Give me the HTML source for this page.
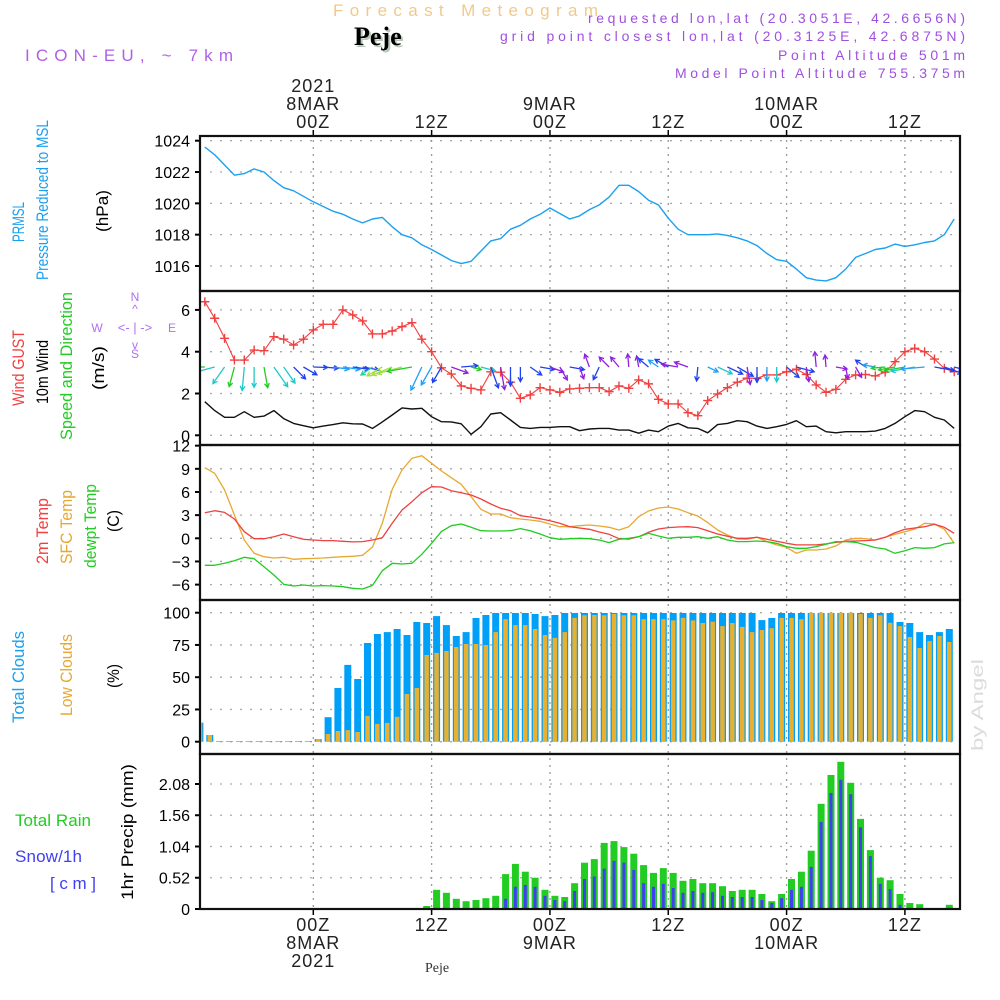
<!DOCTYPE html>
<html><head><meta charset="utf-8"><title>Forecast Meteogram Peje</title>
<style>
html,body{margin:0;padding:0;background:#fff;}
svg{display:block;font-family:"Liberation Sans",sans-serif;}
</style></head>
<body>
<svg id="chart" width="1000" height="1000" viewBox="0 0 1000 1000">
<defs><clipPath id="plotclip"><rect x="201" y="136" width="758" height="773"/></clipPath></defs>
<g id="header">
<text x="333" y="16" font-size="17" fill="#f2c98a" textLength="265">Forecast Meteogram</text>
<text x="356" y="47" font-size="26" font-weight="bold" font-family="Liberation Serif,serif" fill="#b8c8b8">Peje</text>
<text x="354" y="45" font-size="26" font-weight="bold" font-family="Liberation Serif,serif" fill="#000">Peje</text>
<text x="25" y="61" font-size="17" fill="#b060e8" textLength="208">ICON-EU, ~ 7km</text>
<text x="965" y="23" font-size="14" fill="#a050e0" text-anchor="end" textLength="377">requested lon,lat (20.3051E, 42.6656N)</text>
<text x="965" y="41" font-size="14" fill="#a050e0" text-anchor="end" textLength="465">grid point closest lon,lat (20.3125E, 42.6875N)</text>
<text x="965" y="60" font-size="14" fill="#a050e0" text-anchor="end" textLength="187">Point Altitude 501m</text>
<text x="965" y="78" font-size="14" fill="#a050e0" text-anchor="end" textLength="290">Model Point Altitude 755.375m</text>
</g>
<g id="grid"></g>
<g id="marks" clip-path="url(#plotclip)"></g>
<g id="frames"></g>
<g id="labels"></g>
</svg>
<script>
// ---- data (hourly, t = -11 .. 65 hours from 00Z 8MAR) ----
const startHour = -11;
const pressure = [1023.6,1023.1,1022.45,1021.8,1021.9,1022.2,1022.0,1021.45,1021.0,1020.8,1020.45,1020.1,1019.8,1019.5,1019.3,1019.0,1018.75,1019.0,1019.1,1018.5,1018.0,1017.8,1017.35,1017.05,1016.7,1016.35,1016.15,1016.3,1016.95,1017.6,1017.75,1018.35,1018.6,1019.0,1019.3,1019.7,1019.35,1019.0,1019.2,1019.6,1019.9,1020.4,1021.15,1021.15,1020.75,1020.2,1019.9,1019.05,1018.35,1018.0,1018.0,1018.0,1018.05,1017.95,1017.8,1017.6,1017.3,1016.8,1016.4,1016.3,1015.8,1015.25,1015.1,1015.05,1015.25,1015.8,1016.55,1016.8,1017.05,1017.15,1017.4,1017.25,1017.35,1017.5,1017.6,1018.0,1019.0];
const gust = [6.39,5.6,4.64,3.6,3.6,4.08,4.05,4.72,4.6,4.32,4.6,5.04,5.31,5.31,6.0,5.76,5.47,4.85,4.85,4.99,5.2,5.39,4.6,4.0,3.23,2.93,2.36,2.25,2.17,3.04,3.02,2.54,1.77,1.93,2.28,2.17,2.06,2.22,2.25,2.28,2.28,2.09,2.36,2.25,2.65,2.46,1.72,1.5,1.5,1.08,0.94,1.66,1.98,2.28,2.54,2.73,2.73,2.89,2.89,3.04,3.16,2.91,2.41,2.06,2.2,2.68,2.89,2.91,2.84,3.02,3.52,4.0,4.16,4.0,3.65,3.2,3.04];
const wind10 = [1.61,1.18,0.86,0.86,1.13,0.86,0.92,1.18,0.8,0.57,0.46,0.36,0.44,0.51,0.6,0.55,0.54,0.33,0.64,0.97,1.31,1.26,1.29,0.89,0.65,0.64,0.55,0.05,0.41,1.02,1.08,0.73,0.38,0.33,0.38,0.38,0.41,0.41,0.22,0.3,0.33,0.33,0.25,0.25,0.1,0.25,0.17,0.44,0.57,0.36,0.33,0.12,0.51,0.57,0.7,0.65,0.44,0.33,0.41,0.52,0.7,0.41,0.44,0.17,0.12,0.17,0.17,0.17,0.2,0.33,0.57,0.89,1.18,1.13,0.86,0.73,0.33];
const windDir = [180,165,125,105,95,90,80,55,55,45,30,2,5,8,8,8,10,145,150,158,165,170,115,120,120,20,-5,15,15,70,80,90,90,35,10,20,60,10,70,250,115,225,230,265,260,220,215,210,190,200,95,25,25,25,30,80,90,90,90,40,15,80,265,265,10,80,60,215,190,175,170,170,170,175,10,20,15];
const windCol = ["g","c","c","g","c","c","g","c","c","b","b","b","b","lb","lb","b","b","t","yg","yg","yg","g","lb","lb","b","p","b","g","c","b","p","b","b","b","b","p","p","b","p","p","b","p","p","p","p","b","lb","b","p","p","b","lb","c","b","b","p","b","lb","c","b","b","p","p","p","p","p","p","b","lb","g","g","g","c","lb","b","b","b"];
const temp2m = [3.32,3.58,3.36,2.5,0.86,-0.05,-0.05,0.21,0.56,0.21,-0.13,-0.22,-0.3,-0.3,-0.39,-0.47,-0.43,-0.22,0.08,1.94,3.67,4.74,5.91,6.68,6.64,6.17,5.91,5.61,5.09,4.44,3.89,3.58,2.93,2.76,2.54,2.28,1.94,1.5,1.33,1.17,0.82,0.52,-0.05,-0.1,0.21,0.78,1.2,1.38,1.46,1.5,1.38,0.99,0.56,0.26,0,0,0.13,-0.13,-0.39,-0.65,-0.86,-0.86,-0.86,-0.73,-0.52,-0.39,-0.35,-0.3,-0.22,0.13,0.73,1.17,1.33,1.5,1.81,1.42,0.65];
const sfcTemp = [9.15,8.42,6.26,3.02,-0.22,-1.94,-2.38,-2.55,-2.46,-2.72,-2.64,-2.6,-2.55,-2.46,-2.38,-2.33,-2.2,-1.13,1.94,6.35,8.85,10.36,10.7,9.72,8.72,7.85,6.99,5.39,3.76,3.15,3.15,2.67,2.5,2.37,2.2,1.85,1.5,1.5,1.63,1.72,1.59,1.42,1.07,1.5,2.8,3.54,3.93,4.05,3.8,3.32,2.89,2.03,1.07,0.43,-0.09,-0.13,0.13,-0.43,-0.86,-1.17,-1.94,-1.51,-1.51,-1.38,-0.99,-0.22,0.0,-0.04,-0.22,0.13,0.52,0.86,1.2,1.94,1.85,1.17,-0.65];
const dewpt = [-3.5,-3.5,-3.24,-2.9,-2.46,-2.64,-3.68,-4.75,-5.96,-6.18,-6.05,-6.18,-6.13,-6.18,-6.27,-6.48,-6.57,-6.1,-4.2,-3.24,-3.33,-3.24,-2.07,-0.65,0.9,1.63,1.85,1.42,0.99,0.95,0.95,0.99,1.25,0.99,0.56,0.08,-0.13,-0.05,0.0,-0.05,-0.22,-0.56,-0.13,0,0.21,0.65,0.3,0,0.13,0.13,0.21,0,0.21,-0.22,-0.43,-0.43,-0.35,-0.43,-0.65,-1.08,-1.3,-1.3,-1.08,-0.78,-0.43,-0.43,-0.52,-0.86,-1.21,-1.38,-1.94,-1.6,-1.21,-1.3,-1.21,-0.73,-0.56];
const totalCloud = [14.7,5.2,0.5,0.5,0.5,0.5,0.5,0.5,0.5,0.5,0.5,0.5,2,19,41.6,59.5,48.6,76.5,83.5,85,87.4,82.7,92.8,92,97.4,90.4,81.9,85,95.9,98.2,99.8,99.8,99.8,99.8,99,97.4,98.2,99.8,99.8,99.8,99.8,99.8,99.8,99.8,99.8,99.8,99.8,99.8,99.8,99.8,99.8,99.8,99.8,99.8,99.8,99.8,99.8,94.3,95.9,99.8,99.8,99.8,99.8,99.8,99.8,99.8,99.8,99.8,99.8,99.8,99.8,92.8,92,85,82.7,85,87.4];
const lowCloud = [14.7,5.2,0.5,0.5,0.5,0.5,0.5,0.5,0.5,0.5,0.5,0.5,2,6,8.3,9,7.5,20,13.8,14.6,19.3,37,41.6,67.2,68.8,70.3,73.4,75.7,75.7,75,85,95,90.4,90.4,87.4,82.7,80.5,85,96,98,98.2,98,99,98,98,95,95,95,94,96,94,92,93,89.6,92,89,85,86.6,88,96,96,95,100,100,100,100,100,99,96,98,92.2,89.6,81.2,72.6,78,81.9,77.3];
const totalPrecip = [0,0,0,0,0,0,0,0,0,0,0,0,0,0,0,0,0,0,0,0,0,0,0,0.05,0.32,0.27,0.17,0.13,0.15,0.18,0.22,0.58,0.75,0.62,0.52,0.32,0.22,0.2,0.43,0.77,0.83,1.1,1.13,1.03,0.92,0.73,0.6,0.68,0.6,0.47,0.5,0.43,0.43,0.38,0.3,0.32,0.32,0.25,0.13,0.25,0.5,0.62,0.97,1.75,2.23,2.45,2.1,1.5,0.98,0.52,0.48,0.25,0.1,0.08,0,0,0.07];
const snowPrecip = [0,0,0,0,0,0,0,0,0,0,0,0,0,0,0,0,0,0,0,0,0,0,0,0,0,0,0,0,0,0,0,0.17,0.37,0.4,0.37,0.22,0.15,0.13,0.3,0.5,0.54,0.67,0.8,0.77,0.65,0.43,0.37,0.42,0.35,0.27,0.3,0.27,0.28,0.22,0.2,0.2,0.2,0.15,0.1,0.18,0.32,0.37,0.7,1.45,1.93,2.15,1.91,1.36,0.88,0.42,0.33,0.07,0.02,0,0,0,0];
const pressTicks = [1016,1018,1020,1022,1024];
const windTicks = [0,2,4,6];
const tempTicks = [-6,-3,0,3,6,9,12];
const cloudTicks = [0,25,50,75,100];
const precipTicks = [0,0.52,1.04,1.56,2.08];
const timeTicks = [0,12,24,36,48,60];
const timeLabels = ["00Z","12Z","00Z","12Z","00Z","12Z"];
const dateLabels = ["8MAR","","9MAR","","10MAR",""];

// ---- scales ----
const NS = "http://www.w3.org/2000/svg";
const X0 = 200, X1 = 960;
const xT = t => 313.3 + 9.86 * t;
const yP = v => 140.7 + (1024 - v) * 15.66;
const yW = v => 435.3 - v * 20.9;
const yT = v => 538.3 - v * 7.72;
const yC = v => 741.7 - v * 1.29;
const yR = v => 909 - v * 60.1;
const panels = [[136,291],[291,445],[445,600],[600,754],[754,909]];
const colMap = {g:"#22cc22",c:"#20c8c8",b:"#2040f0",lb:"#20a0f8",p:"#9020e0",yg:"#a0e040",t:"#20d0a0"};

function mk(tag, attrs, parent){ const e=document.createElementNS(NS,tag); for(const k in attrs) e.setAttribute(k,attrs[k]); parent.appendChild(e); return e; }
const gGrid=document.getElementById('grid'), gMarks=document.getElementById('marks'), gFr=document.getElementById('frames'), gLab=document.getElementById('labels');

// horizontal grid + y ticks
function yAxis(ticks, sc, name, fmt){
  ticks.forEach(v=>{
    const y=sc(v);
    const l=mk('line',{x1:210,x2:958,y1:y,y2:y,stroke:'#aaa','stroke-width':1.3,'stroke-dasharray':'2,8'},gGrid);
    
    
    const tk=mk('line',{x1:195,x2:201,y1:y,y2:y,stroke:'#000','stroke-width':2},gFr);
    
    
    const tx=mk('text',{x:190,y:y+6,'font-size':16,'text-anchor':'end',fill:'#000'},gLab);
    tx.textContent=fmt(v);
    
    
  });
}
yAxis(pressTicks,yP,'pressure-axis',v=>String(v));
yAxis(windTicks,yW,'wind-axis',v=>String(v));
yAxis(tempTicks,yT,'temp-axis',v=>v<0?'\u2212'+(-v):String(v));
yAxis(cloudTicks,yC,'cloud-axis',v=>String(v));
yAxis(precipTicks,yR,'precip-axis',v=>v===0?'0':v.toFixed(2));

// vertical grid + time ticks
timeTicks.forEach((t,i)=>{
  const x=xT(t);
  panels.forEach(p=>{
    const l=mk('line',{x1:x,x2:x,y1:p[0]+4,y2:p[1],stroke:'#999','stroke-width':1.3,'stroke-dasharray':'2,5'},gGrid);
    
    
  });
  const tt=mk('line',{x1:x,x2:x,y1:136,y2:130,stroke:'#000','stroke-width':1.5},gFr);
  
  
  const tb=mk('line',{x1:x,x2:x,y1:909,y2:915,stroke:'#000','stroke-width':1.5},gFr);
  
  
  const a=mk('text',{x:x,y:128,'font-size':18,'text-anchor':'middle','letter-spacing':1,fill:'#222'},gLab);
  a.textContent=timeLabels[i];
  
  
  const b=mk('text',{x:x,y:931,'font-size':18,'text-anchor':'middle','letter-spacing':1,fill:'#222'},gLab);
  b.textContent=timeLabels[i];
  
  
  if(dateLabels[i]){
    const c=mk('text',{x:x,y:110,'font-size':18,'text-anchor':'middle','letter-spacing':1,fill:'#222'},gLab);
    c.textContent=dateLabels[i];
    
    
    const d=mk('text',{x:x,y:949,'font-size':18,'text-anchor':'middle','letter-spacing':1,fill:'#222'},gLab);
    d.textContent=dateLabels[i];
    
    
  }
});
[[92,'top-year-label'],[967,'bottom-year-label']].forEach(([y,n])=>{
  const e=mk('text',{x:xT(0),y:y,'font-size':18,'text-anchor':'middle','letter-spacing':1,fill:'#222'},gLab);
  e.textContent='2021';
  
  
});

// lines
function line(arr, sx, sy, color, w, name){
  const pts=arr.map((v,i)=>sx(startHour+i).toFixed(1)+','+sy(v).toFixed(1)).join(' ');
  const p=mk('polyline',{points:pts,fill:'none',stroke:color,'stroke-width':w,'stroke-linejoin':'round'},gMarks);
  
  
}
line(pressure,xT,yP,'#1aa0f0',1.4,'pressure-line');
line(wind10,xT,yW,'#111',1.4,'wind-speed-line');
line(gust,xT,yW,'#f04040',1.1,'gust-line');
gust.forEach((v,i)=>{
  const x=xT(startHour+i), y=yW(v);
  const m=mk('path',{d:`M${x-4.5},${y}H${x+4.5}M${x},${y-4.5}V${y+4.5}`,stroke:'#f04040','stroke-width':1.4},gMarks);
  
  
});
// wind arrows
windDir.forEach((d,i)=>{
  const x=xT(startHour+i), y=367;
  const len=10+12*Math.min(wind10[i],1.6);
  const r=d*Math.PI/180, ex=x+len*Math.cos(r), ey=y+len*Math.sin(r);
  const h=5, a1=r+Math.PI-0.5, a2=r+Math.PI+0.5;
  const col=colMap[windCol[i]];
  const p=mk('path',{d:`M${x.toFixed(1)},${y}L${ex.toFixed(1)},${ey.toFixed(1)}M${(ex+h*Math.cos(a1)).toFixed(1)},${(ey+h*Math.sin(a1)).toFixed(1)}L${ex.toFixed(1)},${ey.toFixed(1)}L${(ex+h*Math.cos(a2)).toFixed(1)},${(ey+h*Math.sin(a2)).toFixed(1)}`,stroke:col,'stroke-width':1.3,fill:'none'},gMarks);
  
  
});
line(sfcTemp,xT,yT,'#e8a830',1.3,'sfc-temp-line');
line(temp2m,xT,yT,'#f04040',1.3,'temp-2m-line');
line(dewpt,xT,yT,'#20cc20',1.3,'dewpoint-line');

// bars
function bars(arr, sy, color, w, name){
  arr.forEach((v,i)=>{
    const xc=xT(startHour+i-0.5);
    const y=sy(v), y0=sy(0);
    const r=mk('rect',{x:(xc-w/2).toFixed(1),y:y.toFixed(1),width:w,height:Math.max(0,y0-y).toFixed(1),fill:color},gMarks);
    
    
  });
}
bars(totalCloud,yC,'#00a0f8',7,'total-cloud-bar');
bars(lowCloud,yC,'#e8b030',4.5,'low-cloud-bar');
bars(totalPrecip,yR,'#22cc22',7,'total-precip-bar');
bars(snowPrecip,yR,'#4040f0',3,'snow-bar');

// frames
panels.forEach((p,i)=>{
  const r=mk('rect',{x:200,y:p[0],width:760,height:p[1]-p[0],fill:'none',stroke:'#111','stroke-width':2.2},gFr);
  
  
});

// side labels
function vlab(txt,x,yc,len,color,name,size){
  const t=mk('text',{x:0,y:0,transform:`translate(${x},${yc}) rotate(-90)`,'text-anchor':'middle','font-size':size||17,fill:color,textLength:len,lengthAdjust:'spacingAndGlyphs'},gLab);
  t.textContent=txt;
  
  
}
vlab('PRMSL',24,222,40,'#1aa0f0','prmsl-label');
vlab('Pressure Reduced to MSL',48,200,160,'#1aa0f0','pressure-label');
vlab('(hPa)',108,211,42,'#000','hpa-unit-label');
vlab('Wind GUST',24,368,76,'#f04040','gust-label');
vlab('10m Wind',48,372,64,'#000','wind10-label');
vlab('Speed and Direction',72,366,148,'#22cc22','speed-direction-label');
vlab('(m/s)',104,368,44,'#000','ms-unit-label');
vlab('2m Temp',48,531,66,'#f04040','temp2m-label');
vlab('SFC Temp',72,527,74,'#e8a830','sfc-temp-label');
vlab('dewpt Temp',96,526,84,'#22cc22','dewpt-label');
vlab('(C)',119,521,22,'#000','celsius-unit-label');
vlab('Total Clouds',24,677,92,'#1aa0f0','total-clouds-label');
vlab('Low Clouds',72,675,82,'#e8a830','low-clouds-label');
vlab('(%)',119,676,24,'#000','percent-unit-label');
vlab('1hr Precip (mm)',133,832,136,'#000','precip-unit-label');
vlab('by Angel',983,705,92,'#dcdcdc','watermark',17);
[['Total  Rain',15,826,76,'#22cc22','total-rain-label'],['Snow/1h',15,862,67,'#4040f0','snow-label'],['[cm]',50,889,46,'#4040f0','snow-unit-label']].forEach(a=>{
  const t=mk('text',{x:a[1],y:a[2],'font-size':17,fill:a[4],textLength:a[3]},gLab);
  t.textContent=a[0];
  
  
});
// compass
[['N',135,301],['S',135,358],['W',97,332],['E',172,332],['<- | ->',135,332]].forEach((a,i)=>{
  const t=mk('text',{x:a[1],y:a[2],'font-size':i<4?12:13,fill:'#b070f0','text-anchor':'middle'},gLab);
  t.textContent=a[0];
  
  
});
[['^',135,313],['v',135,349]].forEach(a=>{
  const t=mk('text',{x:a[1],y:a[2],'font-size':12,fill:'#b070f0','text-anchor':'middle'},gLab);
  t.textContent=a[0];
  
  
});
const fp=mk('text',{x:425,y:972,'font-size':14,'font-family':'Liberation Serif,serif',fill:'#333'},gLab);
fp.textContent='Peje';


</script>
</body></html>
